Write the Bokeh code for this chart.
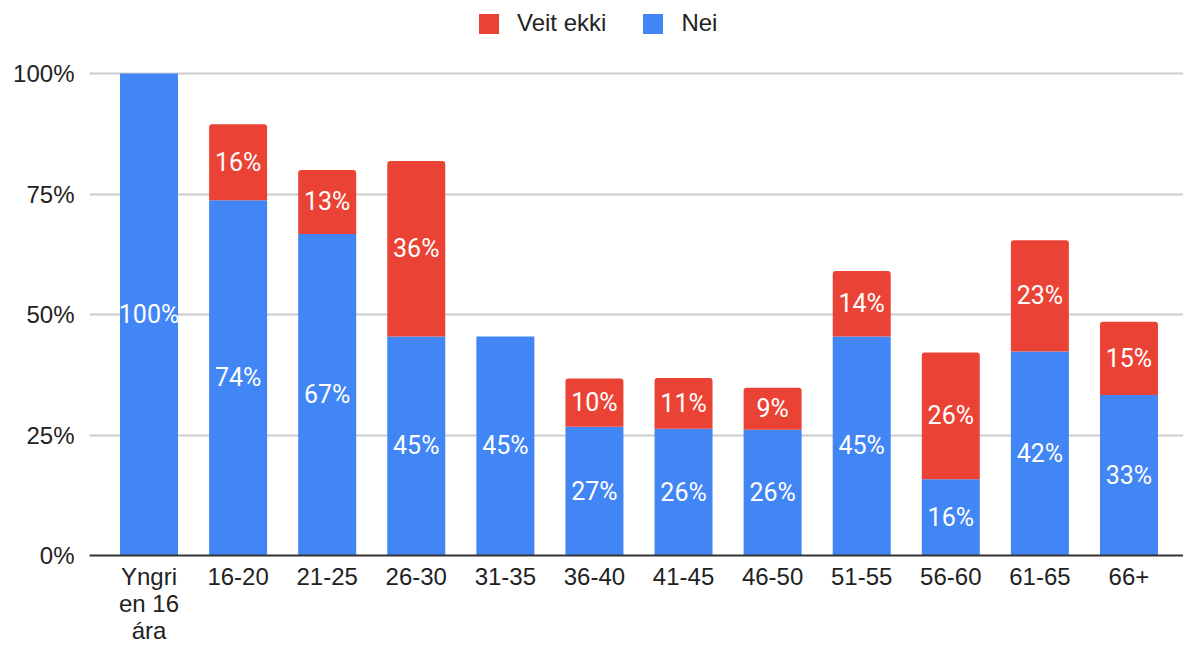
import numpy as np
from bokeh.plotting import figure
from bokeh.models import (ColumnDataSource, FixedTicker, Range1d, Legend, LegendItem)
from bokeh.core.properties import value
from bokeh.embed import file_html
from bokeh.resources import INLINE

categories = ["Yngri\nen 16\nára", "16-20", "21-25", "26-30", "31-35", "36-40",
              "41-45", "46-50", "51-55", "56-60", "61-65", "66+"]
nei = [100.0, 73.7, 66.7, 45.45, 45.45, 26.7, 26.3, 26.1, 45.45, 15.8, 42.3, 33.3]
veit_ekki = [0.0, 15.8, 13.3, 36.4, 0.0, 10.0, 10.53, 8.7, 13.6, 26.3, 23.1, 15.2]
y_ticks = [0, 25, 50, 75, 100]
y_tick_labels = ["0%", "25%", "50%", "75%", "100%"]

BLUE = "#4285F4"
RED = "#EA4335"

x = list(range(len(categories)))
src = ColumnDataSource(dict(
    x=x, nei=nei, veit=veit_ekki,
    top_all=[a + b for a, b in zip(nei, veit_ekki)],
))

p = figure(width=1183, height=646, output_backend="svg", toolbar_location=None,
           x_range=Range1d(-0.668, 11.612), y_range=Range1d(0, 115.15),
           min_border_left=89, min_border_right=0, min_border_top=0,
           min_border_bottom=91)
p.outline_line_color = None
p.background_fill_color = "white"

r_nei = p.vbar(x="x", top="nei", bottom=0, width=0.651, source=src,
               fill_color=BLUE, line_color=None)
try:
    r_veit = p.vbar(x="x", top="top_all", bottom="nei", width=0.651, source=src,
                    fill_color=RED, line_color=None, border_radius=(3, 3, 0, 0))
except Exception:
    r_veit = p.vbar(x="x", top="top_all", bottom="nei", width=0.651, source=src,
                    fill_color=RED, line_color=None)

# labels
lx, ly, lt = [], [], []
for i in x:
    if nei[i] > 0:
        lx.append(i); ly.append(nei[i] / 2); lt.append(f"{round(nei[i])}%")
    if veit_ekki[i] > 0:
        lx.append(i); ly.append(nei[i] + veit_ekki[i] / 2); lt.append(f"{round(veit_ekki[i])}%")
lab_src = ColumnDataSource(dict(x=lx, y=ly, t=lt))
p.text(x="x", y="y", text="t", source=lab_src, text_align="center",
       text_baseline="middle", text_color="white", text_font=value("Roboto"),
       text_font_size="25px")

# axes
p.xaxis.ticker = FixedTicker(ticks=x)
p.xaxis.major_label_overrides = {i: c for i, c in zip(x, categories)}
p.xaxis.major_label_text_font = "Liberation Sans"
p.xaxis.major_label_text_font_size = "24px"
p.xaxis.major_label_text_color = "#222222"
p.xaxis.major_label_text_line_height = 1.0
p.xaxis.major_label_standoff = 7
p.xaxis.major_tick_line_color = None
p.xaxis.major_tick_out = 0
p.xaxis.major_tick_in = 0
p.xaxis.minor_tick_line_color = None
p.xaxis.axis_line_color = "#333333"
p.xaxis.axis_line_width = 2

p.yaxis.ticker = FixedTicker(ticks=y_ticks)
p.yaxis.major_label_overrides = {t: l for t, l in zip(y_ticks, y_tick_labels)}
p.yaxis.major_label_text_font = "Liberation Sans"
p.yaxis.major_label_text_font_size = "24px"
p.yaxis.major_label_text_color = "#222222"
p.yaxis.major_label_standoff = 15
p.yaxis.major_tick_line_color = None
p.yaxis.major_tick_out = 0
p.yaxis.major_tick_in = 0
p.yaxis.minor_tick_line_color = None
p.yaxis.axis_line_color = None

p.xgrid.grid_line_color = None
p.ygrid.ticker = FixedTicker(ticks=y_ticks[1:])
p.ygrid.grid_line_color = "#cccccc"
p.ygrid.grid_line_width = 2

legend = Legend(items=[LegendItem(label="Veit ekki", renderers=[r_veit]),
                       LegendItem(label="Nei", renderers=[r_nei])],
                orientation="horizontal", location=(387, 518),
                glyph_width=25, glyph_height=25, label_standoff=16, spacing=34,
                padding=0, margin=0, border_line_color=None,
                background_fill_alpha=0, label_text_font="Liberation Sans",
                label_text_font_size="24px", label_text_color="#222222")
p.add_layout(legend, "center")

open("out.html", "w").write(file_html(p, INLINE))
